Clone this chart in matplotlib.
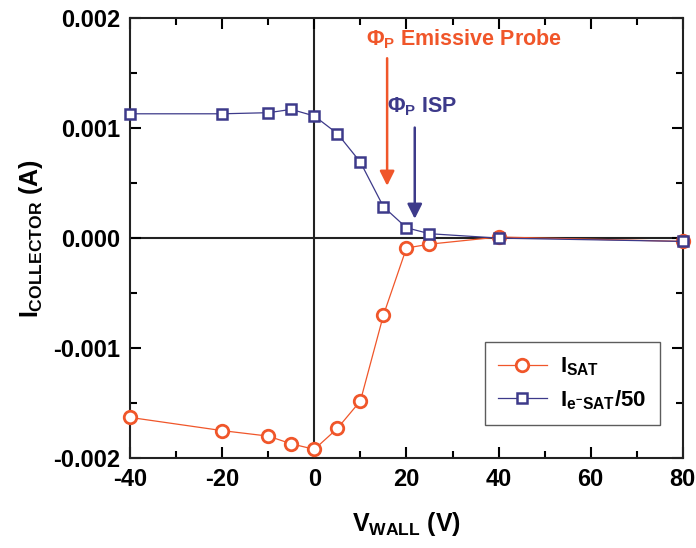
import matplotlib
matplotlib.use("Agg")
import matplotlib.pyplot as plt
from matplotlib.ticker import MultipleLocator

plt.rcParams['font.family'] = ['Liberation Sans', 'DejaVu Sans']
plt.rcParams['font.weight'] = 'bold'
plt.rcParams['axes.unicode_minus'] = False
plt.rcParams['mathtext.fontset'] = 'custom'
plt.rcParams['mathtext.rm'] = 'Liberation Sans:bold'
plt.rcParams['mathtext.it'] = 'Liberation Sans:bold'
plt.rcParams['mathtext.bf'] = 'Liberation Sans:bold'

v_wall = [-40, -20, -10, -5, 0, 5, 10, 15, 20, 25, 40, 80]
i_sat = [-0.00163, -0.00175, -0.00180, -0.00187, -0.00192, -0.00173, -0.00148,
         -0.00070, -0.00009, -0.000055, 0.00001, -0.00003]
i_esat_50 = [0.00113, 0.00113, 0.00114, 0.00117, 0.00111, 0.00095, 0.00069,
             0.000285, 0.000094, 0.00004, 0.0, -0.00003]

orange = '#f0562a'
blue = '#3d3a8a'

fig = plt.figure(figsize=(6.96, 5.48), dpi=100)
ax = fig.add_axes([0.187, 0.164, 0.794, 0.803])

ax.axhline(0, color='#222222', lw=1.5, zorder=1)
ax.axvline(0, color='#222222', lw=1.5, zorder=1)

ax.plot(v_wall, i_sat, color=orange, lw=0.9, marker='o', ms=9, mfc='white',
        mec=orange, mew=2.0, label=r'$I_{SAT}$', zorder=3, clip_on=False)
ax.plot(v_wall, i_esat_50, color=blue, lw=0.9, marker='s', ms=7.5, mfc='white',
        mec=blue, mew=1.8, label=r'$I_{e^{-}SAT}$/50', zorder=3, clip_on=False)

ax.set_xlim(-40, 80)
ax.set_ylim(-0.002, 0.002)
ax.xaxis.set_major_locator(MultipleLocator(20))
ax.xaxis.set_minor_locator(MultipleLocator(10))
ax.yaxis.set_major_locator(MultipleLocator(0.001))
ax.yaxis.set_minor_locator(MultipleLocator(0.0005))
ax.yaxis.set_major_formatter(plt.FuncFormatter(lambda v, p: f"{v:.3f}"))
ax.tick_params(which='both', direction='in', top=True, right=True, width=1.5)
ax.tick_params(which='major', length=8, labelsize=17, pad=7)
ax.tick_params(which='minor', length=5)
for lab in ax.get_xticklabels() + ax.get_yticklabels():
    lab.set_fontweight('bold')
for s in ax.spines.values():
    s.set_linewidth(1.5)
    s.set_color('#222222')

ax.set_xlabel(r'$V_{WALL}$ (V)', fontsize=18, fontweight='bold', labelpad=14)
ax.set_ylabel(r'$I_{COLLECTOR}$ (A)', fontsize=18, fontweight='bold', labelpad=6)

ax.annotate('', xy=(15.8, 0.00045), xytext=(15.8, 0.00166),
            arrowprops=dict(arrowstyle='-|>', color=orange, lw=1.8, mutation_scale=22))
ax.text(11.2, 0.00181, r'$\Phi_P$ Emissive Probe', color=orange, fontsize=15.5,
        fontweight='bold', va='center', ha='left')
ax.annotate('', xy=(21.8, 0.00015), xytext=(21.8, 0.00103),
            arrowprops=dict(arrowstyle='-|>', color=blue, lw=1.8, mutation_scale=22))
ax.text(15.8, 0.00119, r'$\Phi_P$ ISP', color=blue, fontsize=15.5,
        fontweight='bold', va='center', ha='left')

leg = ax.legend(loc='lower right', bbox_to_anchor=(0.958, 0.075), borderaxespad=0,
                fontsize=16, frameon=True, fancybox=False, edgecolor='#333333',
                handlelength=2.2, borderpad=0.6, labelspacing=0.45, handletextpad=0.6)
leg.get_frame().set_linewidth(1.0)

fig.savefig('out.png', dpi=100)
